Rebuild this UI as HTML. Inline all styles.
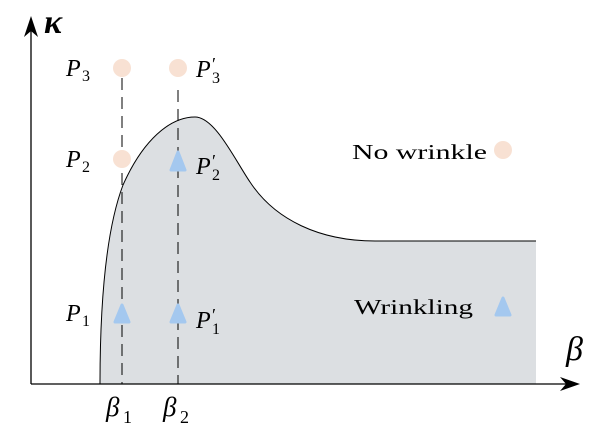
<!DOCTYPE html>
<html><head><meta charset="utf-8"><style>
html,body{margin:0;padding:0;background:#fff;}
svg{display:block;}
text{font-family:"Liberation Serif",serif;fill:#000;}
</style></head><body>
<svg width="605" height="439" viewBox="0 0 605 439" xmlns="http://www.w3.org/2000/svg">
<path d="M100,384 C100,300 106,230 123,185 C143,140 170,117 195,117 C215,117 235,160 250,182 C275,220 320,241 375,241 L536,241 L536,384 Z" fill="#dcdfe2"/>
<path d="M100,384 C100,300 106,230 123,185 C143,140 170,117 195,117 C215,117 235,160 250,182 C275,220 320,241 375,241 L536,241" fill="none" stroke="#000" stroke-width="1"/>
<line x1="122" y1="78" x2="122" y2="384" stroke="#000" stroke-width="1" stroke-dasharray="12,7"/>
<line x1="178" y1="90" x2="178" y2="384" stroke="#000" stroke-width="1" stroke-dasharray="12,7"/>
<line x1="31" y1="384" x2="568" y2="384" stroke="#000" stroke-width="1.3"/>
<path d="M580,384 L560,377 L566,384 L560,391 Z" fill="#000"/>
<line x1="31" y1="384" x2="31" y2="30" stroke="#000" stroke-width="1.3"/>
<path d="M31,16 L24,37 L31,31 L38,37 Z" fill="#000"/>
<text x="44" y="33" font-size="34" font-style="italic" font-weight="bold">κ</text>
<text x="566" y="360" font-size="34" font-style="italic">β</text>
<circle cx="122" cy="68" r="9" fill="#f8e1d3"/>
<circle cx="178" cy="68" r="9" fill="#f8e1d3"/>
<circle cx="122" cy="159" r="9" fill="#f8e1d3"/>
<circle cx="503" cy="150" r="9" fill="#f8e1d3"/>
<g fill="#a4c8ef" stroke="#a4c8ef" stroke-width="3" stroke-linejoin="round">
<path d="M178,152 L185,170 L171,170 Z"/>
<path d="M122,305 L129,322 L115,322 Z"/>
<path d="M178,305 L185,322 L171,322 Z"/>
<path d="M503,298 L510,315 L496,315 Z"/>
</g>
<text x="66" y="76" font-size="24" font-style="italic">P</text><text x="82" y="81" font-size="16">3</text>
<text x="66" y="167" font-size="24" font-style="italic">P</text><text x="82" y="172" font-size="16">2</text>
<text x="66" y="321" font-size="24" font-style="italic">P</text><text x="82" y="326" font-size="16">1</text>
<text x="196" y="77" font-size="24" font-style="italic">P</text><text x="212" y="70" font-size="18">′</text><text x="212" y="83" font-size="16">3</text>
<text x="196" y="174" font-size="24" font-style="italic">P</text><text x="212" y="167" font-size="18">′</text><text x="212" y="180" font-size="16">2</text>
<text x="196" y="328" font-size="24" font-style="italic">P</text><text x="212" y="321" font-size="18">′</text><text x="212" y="334" font-size="16">1</text>
<text x="106" y="416" font-size="27" font-style="italic">β</text><text x="123" y="423" font-size="18">1</text>
<text x="163" y="416" font-size="27" font-style="italic">β</text><text x="180" y="423" font-size="18">2</text>
<text x="352" y="159" font-size="21" textLength="135" lengthAdjust="spacingAndGlyphs">No wrinkle</text>
<text x="354" y="314" font-size="21" textLength="119" lengthAdjust="spacingAndGlyphs">Wrinkling</text>
</svg>
</body></html>
